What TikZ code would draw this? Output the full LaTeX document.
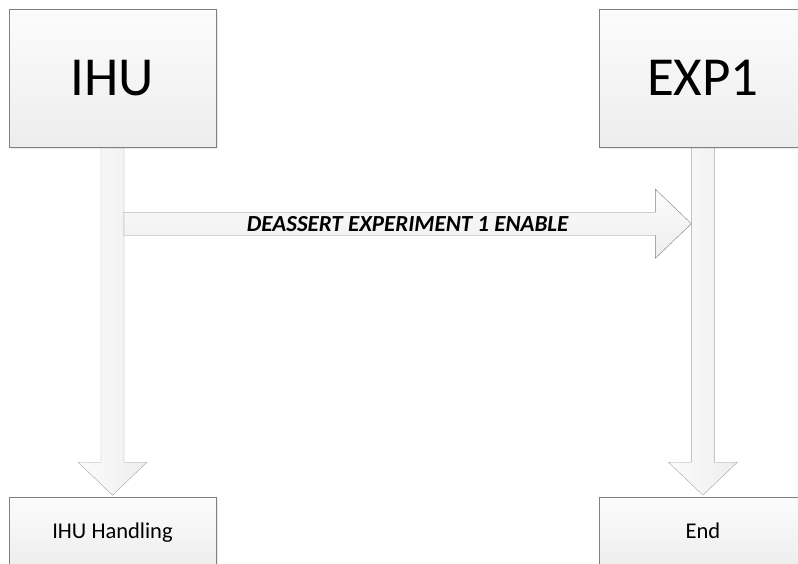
\documentclass[tikz,border=0pt]{standalone}
\usepackage{fontspec}
\setmainfont{Carlito}
\usetikzlibrary{positioning,calc,backgrounds,shadows}
\definecolor{edge}{RGB}{128,128,128}
\definecolor{paleedge}{RGB}{165,165,165}
\definecolor{boxtop}{RGB}{252,252,252}
\definecolor{boxbot}{RGB}{237,237,237}

\begin{document}
\begin{tikzpicture}[
  node distance=350pt and 383pt,
  lifebox/.style={draw=edge, rectangle, inner sep=0pt, minimum width=207pt, minimum height=138pt, top color=boxtop, bottom color=boxbot, font=\fontsize{55}{60}\selectfont, drop shadow={opacity=0.15, shadow xshift=1.5pt, shadow yshift=-2pt}},
  endbox/.style={lifebox, minimum height=70pt, text height=16pt, text depth=4pt, font=\fontsize{22.5}{26}\selectfont},
  stem/.style={draw=paleedge, left color=boxtop, right color=boxbot},
  msg/.style={draw=edge, top color=boxtop, bottom color=boxbot},
  lbl/.style={font=\fontsize{23}{26}\selectfont\bfseries\itshape}
]
\path[use as bounding box, clip] (0,0) rectangle (798pt,-563pt);

\node[lifebox] (ihu) at (112.5pt,-78pt) {IHU};
\node[lifebox, right=of ihu] (exp) {EXP1};
\node[endbox, below=of ihu] (ihuend) {IHU Handling};
\node[endbox, below=of exp] (expend) {End};

% life lines
\begin{scope}[on background layer]
\path[stem] ($(ihu.south)+(-11.5pt,10pt)$) -- ($(ihuend.north)+(-11.5pt,35pt)$) -- ($(ihuend.north)+(-34.5pt,35pt)$)
  -- ($(ihuend.north)+(0,2pt)$) -- ($(ihuend.north)+(34.5pt,35pt)$) -- ($(ihuend.north)+(11.5pt,35pt)$)
  -- ($(ihu.south)+(11.5pt,10pt)$) -- cycle;
\path[stem] ($(exp.south)+(-11.5pt,10pt)$) -- ($(expend.north)+(-11.5pt,35pt)$) -- ($(expend.north)+(-34.5pt,35pt)$)
  -- ($(expend.north)+(0,2pt)$) -- ($(expend.north)+(34.5pt,35pt)$) -- ($(expend.north)+(11.5pt,35pt)$)
  -- ($(exp.south)+(11.5pt,10pt)$) -- cycle;
\end{scope}

% message
\coordinate (from) at ($(ihu.south)+(11.5pt,-76.5pt)$);
\coordinate (to) at ($(exp.south)+(-11.5pt,-76.5pt)$);
\path[msg] ($(from)+(0,11.5pt)$) -- ($(to)+(-36pt,11.5pt)$) -- ($(to)+(-36pt,34.5pt)$) -- (to)
  -- ($(to)+(-36pt,-34.5pt)$) -- ($(to)+(-36pt,-11.5pt)$) -- ($(from)+(0,-11.5pt)$) -- cycle;
\node[lbl] (msgtext) at ($(from)!0.5!(to)$) {DEASSERT EXPERIMENT 1 ENABLE};

\end{tikzpicture}
\end{document}
